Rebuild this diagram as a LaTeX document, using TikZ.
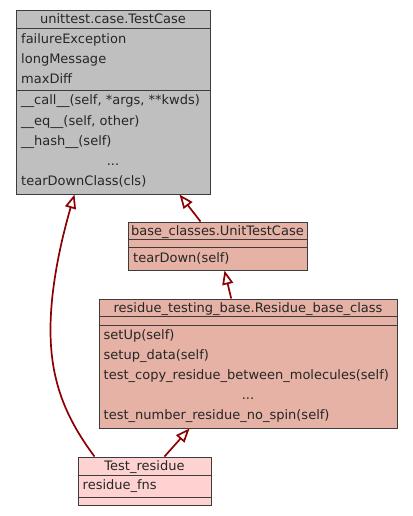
\documentclass[tikz,border=0pt]{standalone}
\usepackage{fontspec}
\setmainfont{DejaVu Sans}
\usepackage{tikz}
\usetikzlibrary{arrows.meta,bending}

\definecolor{ramgra}{RGB}{60,60,60}
\definecolor{gra}{RGB}{191,191,191}
\definecolor{lax}{RGB}{229,178,165}
\definecolor{rosa}{RGB}{255,210,210}
\definecolor{pil}{RGB}{139,0,0}

\tikzset{
  klass/.style={draw=ramgra,line width=1pt,inner sep=0pt},
  rad/.style={anchor=base west,inner sep=0pt},
  rubrik/.style={anchor=base,inner sep=0pt},
  arv/.style={pil,line width=1.7pt,-{Triangle[open,length=14pt,width=11pt]}}
}

\begin{document}
\begin{tikzpicture}[x=1pt,y=-1pt,font=\fontsize{13}{15}\selectfont,text=black!85]
  \useasboundingbox (0,0) rectangle (412,516);
  % Klasser
  \node[klass,fill=gra,minimum width=194pt,minimum height=183pt] (testcase) at (113,102.5) {};
  \node[klass,fill=lax,minimum width=179pt,minimum height=48pt] (utc) at (217.5,246) {};
  \node[klass,fill=lax,minimum width=298pt,minimum height=129pt] (rbc) at (248,363.5) {};
  \node[klass,fill=rosa,minimum width=133pt,minimum height=48pt] (testres) at (144.5,481) {};
  % Linjer
  \draw[ramgra,line width=1pt] (16,29) -- (210,29) (16,90.5) -- (210,90.5);
  \draw[ramgra,line width=1pt] (128,239) -- (307,239) (128,247.5) -- (307,247.5);
  \draw[ramgra,line width=1pt] (99,316.5) -- (397,316.5) (99,325) -- (397,325);
  \draw[ramgra,line width=1pt] (78,475) -- (211,475) (78,497) -- (211,497);
  % unittest.case.TestCase
  \node[rubrik] (tc0) at (113,24) {unittest.case.TestCase};
  \node[rad] (tc1) at (21,43.5) {failureException};
  \node[rad] (tc2) at (21,63.5) {longMessage};
  \node[rad] (tc3) at (21,83.5) {maxDiff};
  \node[rad] (tc4) at (21,105) {\_\_call\_\_(self, *args, **kwds)};
  \node[rad] (tc5) at (21,125) {\_\_eq\_\_(self, other)};
  \node[rad] (tc6) at (21,145) {\_\_hash\_\_(self)};
  \node[rubrik] (tc7) at (113,165) {...};
  \node[rad] (tc8) at (21,185) {tearDownClass(cls)};
  % base_classes.UnitTestCase
  \node[rubrik] (u0) at (217.5,235) {base\_classes.UnitTestCase};
  \node[rad] (u1) at (133,262) {tearDown(self)};
  % residue_testing_base.Residue_base_class
  \node[rubrik] (r0) at (248,312) {residue\_testing\_base.Residue\_base\_class};
  \node[rad] (r1) at (103.5,339.5) {setUp(self)};
  \node[rad] (r2) at (103.5,359.5) {setup\_data(self)};
  \node[rad] (r3) at (103.5,379.5) {test\_copy\_residue\_between\_molecules(self)};
  \node[rubrik] (r4) at (248,399.5) {...};
  \node[rad] (r5) at (103.5,419.5) {test\_number\_residue\_no\_spin(self)};
  % Test_residue
  \node[rubrik] (t0) at (144.5,470) {Test\_residue};
  \node[rad] (t1) at (82.5,489.5) {residue\_fns};
  % Arv
  \draw[arv] ([xshift=73pt]utc.north west) -- ([xshift=164pt]testcase.south west);
  \draw[arv] ([xshift=132.7pt]rbc.north west) -- ([xshift=97pt]utc.south west);
  \draw[arv] ([xshift=87pt]testres.north west) -- ([xshift=91pt]rbc.south west);
  \coordinate (bage) at (50.5,330);
  \draw[arv] ([xshift=17pt]testres.north west) .. controls (65,417) and (50.5,380) .. (bage)
    .. controls (50.5,285) and (62,235) .. ([xshift=59pt]testcase.south west);
\end{tikzpicture}
\end{document}
